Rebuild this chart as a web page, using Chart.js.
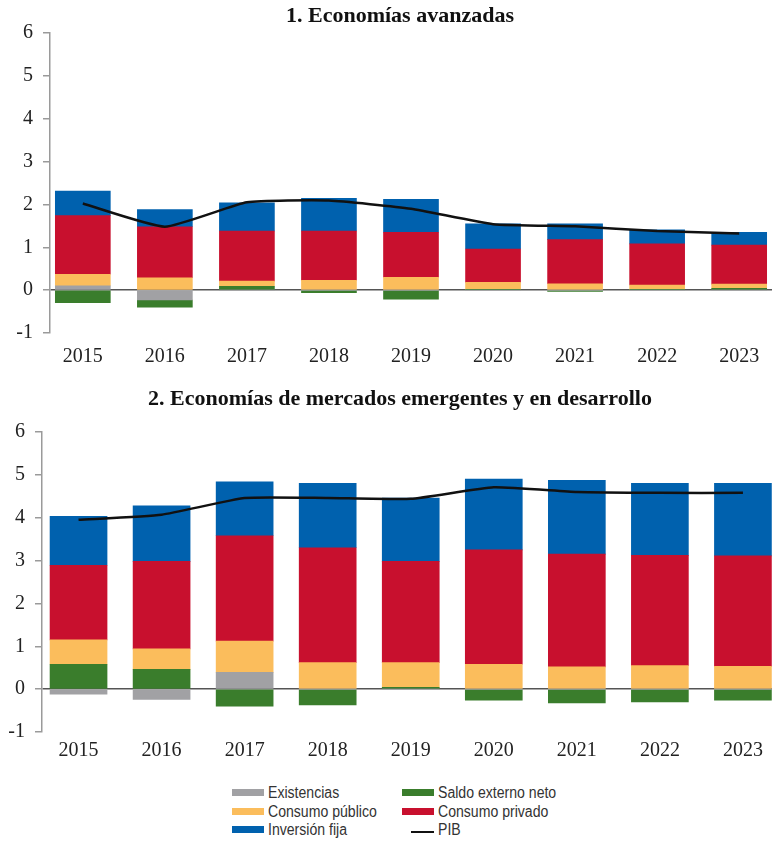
<!DOCTYPE html>
<html>
<head>
<meta charset="utf-8">
<script src="https://cdn.jsdelivr.net/npm/chart.js@4.4.0/dist/chart.umd.min.js"></script>
<style>
  body { margin: 0; background: #fff; }
  #wrap { position: relative; width: 772px; height: 844px; overflow: hidden; }
  .panel { position: absolute; left: 0; width: 772px; height: 375px; }
  .title { position: absolute; left: 28px; width: 744px; text-align: center; z-index: 2;
           font-family: 'Liberation Serif', 'Times New Roman', serif; font-weight: bold;
           font-size: 22px; line-height: 24px; color: #111; }
  .leg { position: absolute; font-family: 'Liberation Sans Narrow', 'Arial Narrow', 'Liberation Sans', sans-serif;
         font-size: 16px; color: #333; white-space: nowrap; transform: scaleX(0.88); transform-origin: 0 0; }
  .sw { position: absolute; width: 32px; height: 7px; }
</style>
</head>
<body>
<div id="wrap">
  <div class="title" style="top:3px">1. Economías avanzadas</div>
  <div class="panel" style="top:0"><canvas id="c1"></canvas></div>
  <div class="title" style="top:386px">2. Economías de mercados emergentes y en desarrollo</div>
  <div class="panel" style="top:399px"><canvas id="c2"></canvas></div>
  <div id="legend"></div>
</div>
<script>
var years = ['2015', '2016', '2017', '2018', '2019', '2020', '2021', '2022', '2023'];

// 1. Economías avanzadas
var existencias1 = [0.10, -0.23, 0, 0, 0, 0, 0, 0, 0];
var saldo1 = [-0.29, -0.17, 0.09, -0.06, -0.21, 0.01, -0.03, 0.01, 0.04];
var publico1 = [0.27, 0.29, 0.12, 0.23, 0.30, 0.17, 0.15, 0.11, 0.10];
var privado1 = [1.37, 1.19, 1.17, 1.15, 1.05, 0.78, 1.03, 0.96, 0.91];
var inversion1 = [0.57, 0.40, 0.66, 0.76, 0.77, 0.59, 0.37, 0.33, 0.30];
var pib1 = [2.02, 1.48, 2.05, 2.09, 1.90, 1.54, 1.49, 1.38, 1.32];

// 2. Economías de mercados emergentes y en desarrollo
var existencias2 = [-0.12, -0.24, 0.39, 0, 0, 0, 0, 0, 0];
var saldo2 = [0.58, 0.46, -0.40, -0.37, 0.04, -0.26, -0.32, -0.30, -0.26];
var publico2 = [0.57, 0.48, 0.73, 0.62, 0.58, 0.58, 0.52, 0.55, 0.53];
var privado2 = [1.74, 2.04, 2.46, 2.68, 2.36, 2.67, 2.63, 2.57, 2.58];
var inversion2 = [1.14, 1.30, 1.26, 1.50, 1.48, 1.65, 1.72, 1.68, 1.69];
var pib2 = [3.95, 4.07, 4.46, 4.46, 4.44, 4.71, 4.60, 4.58, 4.58];

var yTicks = [-1, 0, 1, 2, 3, 4, 5, 6];

var colors = {
    existencias: '#a1a1a4',
    saldo: '#3a7d2c',
    publico: '#fbbd5c',
    privado: '#c8102e',
    inversion: '#0061ae',
    pib: '#111111'
};

function pts(arr) {
    return arr.map(function(v, i) { return { x: i, y: v }; });
}

function bar(label, arr, color, thick) {
    return { type: 'bar', label: label, data: pts(arr), backgroundColor: color,
             borderWidth: 0, barThickness: thick, stack: 'a', order: 1 };
}

function makeChart(id, d, axisX, xMin, xMax, thick, labelPad) {
    var ctx = document.getElementById(id).getContext('2d');
    return new Chart(ctx, {
        data: {
            datasets: [
                bar('Existencias', d[0], colors.existencias, thick),
                bar('Saldo externo neto', d[1], colors.saldo, thick),
                bar('Consumo público', d[2], colors.publico, thick),
                bar('Consumo privado', d[3], colors.privado, thick),
                bar('Inversión fija', d[4], colors.inversion, thick),
                { type: 'line', label: 'PIB', data: pts(d[5]), borderColor: colors.pib,
                  borderWidth: 2.5, pointRadius: 0, tension: 0.15, stack: 'pib', order: 0 }
            ]
        },
        options: {
            responsive: true,
            maintainAspectRatio: false,
            animation: false,
            layout: { padding: { top: 33, left: 0, right: 0, bottom: 0 } },
            plugins: { legend: { display: false }, tooltip: { enabled: false } },
            scales: {
                x: {
                    type: 'linear',
                    stacked: true,
                    offset: false,
                    min: xMin,
                    max: xMax,
                    border: { display: false },
                    grid: { display: false, drawTicks: false, offset: false },
                    afterBuildTicks: function(scale) {
                        scale.ticks = years.map(function(y, i) { return { value: i }; });
                    },
                    afterFit: function(scale) { scale.height = 42; },
                    ticks: {
                        padding: labelPad,
                        autoSkip: false,
                        maxRotation: 0,
                        color: '#222',
                        font: { family: "'Liberation Serif', 'Times New Roman', serif", size: 20 },
                        callback: function(v) { return years[v]; }
                    }
                },
                y: {
                    stacked: true,
                    min: -1,
                    max: 6,
                    afterBuildTicks: function(scale) {
                        scale.ticks = yTicks.map(function(v) { return { value: v }; });
                    },
                    afterFit: function(scale) { scale.width = axisX; },
                    border: { display: true, color: '#9a9a9a', width: 1.5 },
                    grid: {
                        drawOnChartArea: true,
                        tickLength: 7,
                        tickColor: '#9a9a9a',
                        lineWidth: 1.5,
                        color: function(c) { return c.tick && c.tick.value === 0 ? '#555555' : 'rgba(0,0,0,0)'; }
                    },
                    ticks: {
                        padding: 10,
                        color: '#222',
                        font: { family: "'Liberation Serif', 'Times New Roman', serif", size: 20 }
                    }
                }
            }
        }
    });
}

makeChart('c1', [existencias1, saldo1, publico1, privado1, inversion1, pib1], 50, -0.4, 8.4, 55, 12);
makeChart('c2', [existencias2, saldo2, publico2, privado2, inversion2, pib2], 42, -0.44, 8.35, 57, 7);

// legend
var legendItems = [
    { label: 'Existencias', color: colors.existencias, col: 0, row: 0 },
    { label: 'Consumo público', color: colors.publico, col: 0, row: 1 },
    { label: 'Inversión fija', color: colors.inversion, col: 0, row: 2 },
    { label: 'Saldo externo neto', color: colors.saldo, col: 1, row: 0 },
    { label: 'Consumo privado', color: colors.privado, col: 1, row: 1 },
    { label: 'PIB', color: colors.pib, col: 1, row: 2, line: true }
];
var legend = document.getElementById('legend');
legendItems.forEach(function(it) {
    var sx = it.col === 0 ? 232 : 402;
    var y = 788 + it.row * 18.5;
    var sw = document.createElement('div');
    sw.className = 'sw';
    sw.style.background = it.color;
    if (it.line) {
        sw.style.left = (sx + 9) + 'px';
        sw.style.width = '23px';
        sw.style.height = '2px';
        sw.style.top = (y + 6) + 'px';
    } else {
        sw.style.left = sx + 'px';
        sw.style.top = (y + 1) + 'px';
    }
    legend.appendChild(sw);
    var tx = document.createElement('div');
    tx.className = 'leg';
    tx.style.left = (sx + 36) + 'px';
    tx.style.top = (y - 4) + 'px';
    tx.textContent = it.label;
    legend.appendChild(tx);
});
</script>
</body>
</html>
